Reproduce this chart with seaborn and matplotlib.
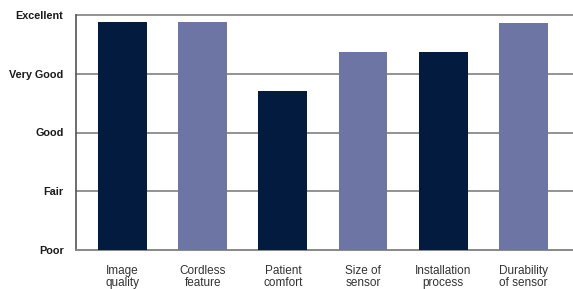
import matplotlib
matplotlib.use("Agg")
import matplotlib.pyplot as plt
import seaborn as sns

# ratings (0 = Poor ... 4 = Excellent)
categories = ["Image\nquality", "Cordless\nfeature", "Patient\ncomfort",
              "Size of\nsensor", "Installation\nprocess", "Durability\nof sensor"]
ratings = [3.88, 3.88, 2.71, 3.37, 3.37, 3.86]
scale_labels = ["Poor", "Fair", "Good", "Very Good", "Excellent"]
bar_colors = ["#021b3f", "#6c75a3", "#021b3f", "#6c75a3", "#021b3f", "#6c75a3"]

sns.set_style("white")
plt.rcParams["font.family"] = ["Liberation Sans", "DejaVu Sans"]

fig = plt.figure(figsize=(5.73, 2.89), dpi=100)
ax = fig.add_axes([76 / 573, 1 - 250 / 289, 1 - 76 / 573, 235 / 289])

sns.barplot(x=categories, y=ratings, hue=categories, palette=bar_colors,
            legend=False, width=0.61, saturation=1, linewidth=0, ax=ax, zorder=3)

ax.set_xlim(-0.58, 5.62)
ax.set_ylim(0, 4)
ax.set_yticks(range(len(scale_labels)))
ax.set_yticklabels(scale_labels, fontsize=7.8, fontweight="bold", color="#1a1a1a")
ax.yaxis.grid(True, color="#8a8a8a", linewidth=1.3, zorder=0)
ax.set_axisbelow(True)
for gl in ax.get_ygridlines():
    gl.set_clip_on(False)

ax.tick_params(axis="both", length=0)
ax.tick_params(axis="y", pad=9)
ax.tick_params(axis="x", pad=11, labelsize=8.5, labelcolor="#333333")
for lab in ax.get_xticklabels():
    lab.set_linespacing(0.95)

sns.despine(ax=ax, top=True, right=True)
ax.spines["left"].set_color("#555555")
ax.spines["left"].set_linewidth(1.2)
ax.spines["bottom"].set_color("#8a8a8a")
ax.spines["bottom"].set_linewidth(1.3)
ax.set_xlabel("")
ax.set_ylabel("")

fig.savefig("out.png", dpi=100)
